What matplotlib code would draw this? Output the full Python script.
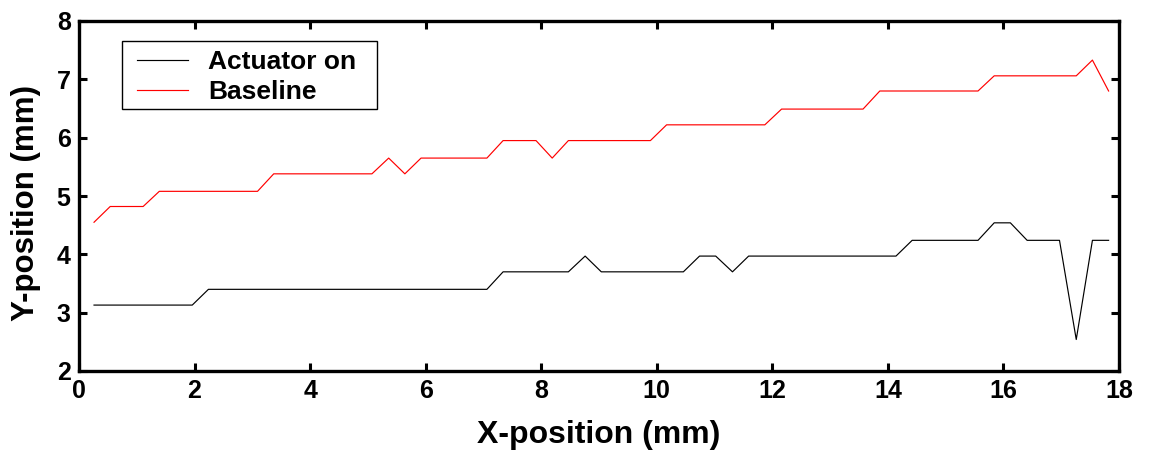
import matplotlib
matplotlib.use("Agg")
import matplotlib.pyplot as plt
from matplotlib.patches import Rectangle

x_mm = [0.26, 0.54, 0.82, 1.11, 1.39, 1.67, 1.96, 2.24, 2.52, 2.81,
        3.09, 3.37, 3.66, 3.94, 4.22, 4.51, 4.79, 5.07, 5.36, 5.64,
        5.92, 6.21, 6.49, 6.77, 7.06, 7.34, 7.62, 7.91, 8.19, 8.47,
        8.76, 9.04, 9.32, 9.61, 9.89, 10.17, 10.46, 10.74, 11.02, 11.31,
        11.59, 11.87, 12.16, 12.44, 12.72, 13.01, 13.29, 13.57, 13.86, 14.14,
        14.42, 14.71, 14.99, 15.27, 15.56, 15.84, 16.12, 16.41, 16.69, 16.97,
        17.26, 17.54, 17.82]

actuator_on = [3.13, 3.13, 3.13, 3.13, 3.13, 3.13, 3.13, 3.40, 3.40, 3.40,
               3.40, 3.40, 3.40, 3.40, 3.40, 3.40, 3.40, 3.40, 3.40, 3.40,
               3.40, 3.40, 3.40, 3.40, 3.40, 3.70, 3.70, 3.70, 3.70, 3.70,
               3.97, 3.70, 3.70, 3.70, 3.70, 3.70, 3.70, 3.97, 3.97, 3.70,
               3.97, 3.97, 3.97, 3.97, 3.97, 3.97, 3.97, 3.97, 3.97, 3.97,
               4.24, 4.24, 4.24, 4.24, 4.24, 4.54, 4.54, 4.24, 4.24, 4.24,
               2.54, 4.24, 4.24]

baseline = [4.55, 4.82, 4.82, 4.82, 5.08, 5.08, 5.08, 5.08, 5.08, 5.08,
            5.08, 5.38, 5.38, 5.38, 5.38, 5.38, 5.38, 5.38, 5.65, 5.38,
            5.65, 5.65, 5.65, 5.65, 5.65, 5.95, 5.95, 5.95, 5.65, 5.95,
            5.95, 5.95, 5.95, 5.95, 5.95, 6.22, 6.22, 6.22, 6.22, 6.22,
            6.22, 6.22, 6.49, 6.49, 6.49, 6.49, 6.49, 6.49, 6.80, 6.80,
            6.80, 6.80, 6.80, 6.80, 6.80, 7.06, 7.06, 7.06, 7.06, 7.06,
            7.06, 7.33, 6.80]

x_ticks = [0, 2, 4, 6, 8, 10, 12, 14, 16, 18]
y_ticks = [2, 3, 4, 5, 6, 7, 8]
series_labels = ["Actuator on", "Baseline"]

plt.rcParams['font.family'] = ['Liberation Sans', 'DejaVu Sans']

W, H = 1149, 453
fig = plt.figure(figsize=(W / 100, H / 100), dpi=100)
ax = fig.add_axes([79 / W, (H - 371) / H, 1040 / W, 350 / H])

ax.plot(x_mm, actuator_on, color='black', lw=0.85, label=series_labels[0])
ax.plot(x_mm, baseline, color='#ff0000', lw=0.85, label=series_labels[1])

ax.set_xlim(0, 18)
ax.set_ylim(2, 8)
ax.set_xticks(x_ticks)
ax.set_yticks(y_ticks)
ax.set_xticklabels([str(v) for v in x_ticks], fontsize=18, fontweight='bold')
ax.set_yticklabels([str(v) for v in y_ticks], fontsize=18, fontweight='bold')
ax.tick_params(direction='in', length=6, width=2.2, top=True, right=True,
               pad=6, labeltop=False, labelright=False)
for s in ax.spines.values():
    s.set_linewidth(2.4)

ax.set_xlabel("X-position (mm)", fontsize=23, fontweight='bold', labelpad=12)
ax.set_ylabel("Y-position (mm)", fontsize=22.5, fontweight='bold')
ax.yaxis.set_label_coords(-0.037, 0.48)

leg = ax.legend(loc='center left', bbox_to_anchor=(137 / W, (H - 77) / H),
                bbox_transform=fig.transFigure, borderaxespad=0, borderpad=0,
                prop={'size': 19, 'weight': 'bold'}, frameon=False,
                handlelength=1.95, handletextpad=0.75, labelspacing=0.22)
leg.set_zorder(6)

frame = Rectangle((122 / W, (H - 109) / H), 255 / W, 68 / H,
                  transform=fig.transFigure, facecolor='white',
                  edgecolor='black', lw=1.0, zorder=5, clip_on=False)
ax.add_patch(frame)

fig.savefig("out.png", dpi=100)
